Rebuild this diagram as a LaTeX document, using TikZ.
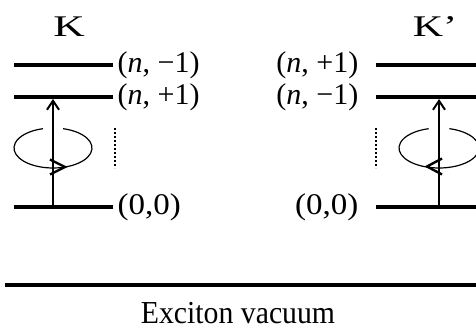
\documentclass[tikz,border=0pt]{standalone}
\usepackage{fontspec}
\usepackage{graphicx}
\setmainfont{Liberation Serif}
\usetikzlibrary{arrows.meta,calc}
\begin{document}
\begin{tikzpicture}[x=1pt,y=-1pt,
  level/.style={line width=4pt},
  lab/.style={font=\fontsize{30}{32}\selectfont, inner xsep=4.5pt, inner ysep=1.5pt},
  valley/.style={font=\fontsize{30}{32}\selectfont, inner sep=0pt},
  trans/.style={line width=1.2pt, -{Straight Barb[length=9pt,width=12pt,line width=2pt]}},
  orbit/.style={line width=1.2pt},
  orbhead/.style={line width=2.4pt},
  dots/.style={line width=2pt, dash pattern=on 2pt off 2pt}]
\useasboundingbox (0,0) rectangle (476,328);
\clip (0,0) rectangle (476,328);
% ---- left valley K
\coordinate (La1) at (14,65);  \coordinate (Lb1) at (113,65);
\coordinate (La2) at (14,97);  \coordinate (Lb2) at (113,97);
\coordinate (La0) at (14,207); \coordinate (Lb0) at (113,207);
\draw[level] (La1) -- (Lb1);
\draw[level] (La2) -- (Lb2);
\draw[level] (La0) -- (Lb0);
\node[lab, anchor=west] (Ln1) at (Lb1) {(\textit{n}, −1)};
\node[lab, anchor=west] (Lp1) at (Lb2) {(\textit{n}, +1)};
\node[lab, anchor=west] (L00) at (Lb0) {\scalebox{1.1}[1]{(0,0)}};
\node[valley] (K) at (69,27) {\scalebox{1.45}[1]{K}};
\coordinate (Ls) at (53,205);
\coordinate (Le) at (53,99);
\draw[trans] (Ls) -- (Le);
\coordinate (Lc) at (53,148);
\draw[orbit] ($(Lc)+({39*cos(-75)},{20*sin(-75)})$) arc[start angle=-75, end angle=255, x radius=39, y radius=20];
\draw[orbhead, line join=miter] (50,159.5) -- (65,167) -- (50,174.5);
\coordinate (Ld1) at (115,128); \coordinate (Ld2) at (115,168);
\draw[dots] (Ld1) -- (Ld2);
% ---- right valley K'
\coordinate (Ra1) at (376,65);  \coordinate (Rb1) at (480,65);
\coordinate (Ra2) at (376,97);  \coordinate (Rb2) at (480,97);
\coordinate (Ra0) at (376,207); \coordinate (Rb0) at (480,207);
\draw[level] (Ra1) -- (Rb1);
\draw[level] (Ra2) -- (Rb2);
\draw[level] (Ra0) -- (Rb0);
\node[lab, anchor=east] (Rp1) at (363,65) {(\textit{n}, +1)};
\node[lab, anchor=east] (Rn1) at (363,97) {(\textit{n}, −1)};
\node[lab, anchor=east] (R00) at (363,207) {\scalebox{1.1}[1]{(0,0)}};
\node[valley] (Kp) at (435,27) {\scalebox{1.4}[1]{K’}};
\coordinate (Rs) at (439,205);
\coordinate (Re) at (439,99);
\draw[trans] (Rs) -- (Re);
\coordinate (Rc) at (439,148);
\draw[orbit] ($(Rc)+({40*cos(-75)},{20*sin(-75)})$) arc[start angle=-75, end angle=255, x radius=40, y radius=20];
\draw[orbhead, line join=miter] (442,158.5) -- (427,166.5) -- (442,174.5);
\coordinate (Rd1) at (376,128); \coordinate (Rd2) at (376,168);
\draw[dots] (Rd1) -- (Rd2);
% ---- vacuum
\coordinate (V1) at (5,285); \coordinate (V2) at (480,285);
\draw[level] (V1) -- (V2);
\node[font=\fontsize{32}{34}\selectfont, inner sep=0pt, anchor=base] (vac) at (238,323.5) {\scalebox{0.93}[1]{Exciton vacuum}};
\end{tikzpicture}
\end{document}
